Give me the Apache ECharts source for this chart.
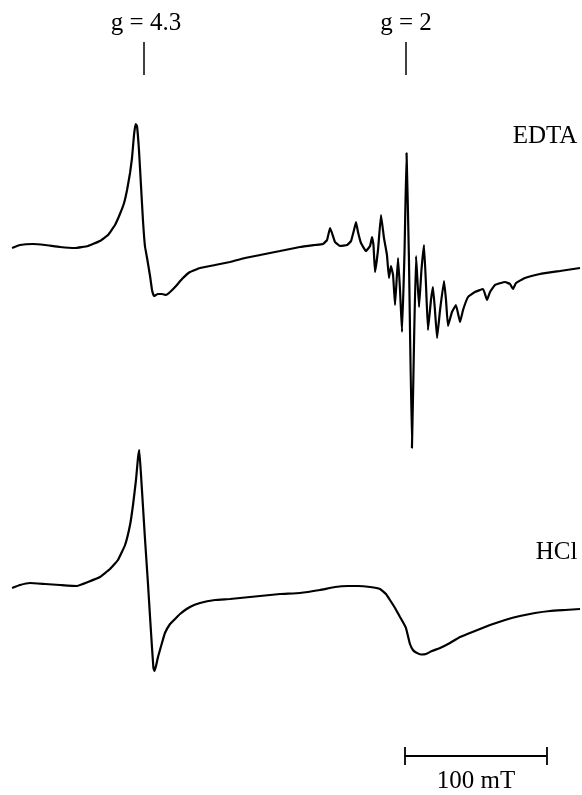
<!DOCTYPE html>
<html><head><meta charset="utf-8">
<script src="https://cdn.jsdelivr.net/npm/echarts@6/dist/echarts.min.js"></script>
<style>html,body{margin:0;padding:0;background:#fff}#c{width:582px;height:795px}</style>
</head><body><div id="c"></div>
<script>
// Magnetic field (mT) and derivative EPR signal (arbitrary units, baseline = 0)
const edtaField = [63.5,69.1,78.2,86.7,97.3,107.8,117.0,125.4,131.1,136.0,139.5,142.4,144.5,146.6,148.0,149.4,150.5,151.5,152.9,154.3,155.7,157.1,158.6,160.7,162.1,163.5,166.3,169.1,171.9,174.8,179.0,183.2,188.8,195.9,206.5,217.0,227.6,238.2,252.3,266.3,276.9,282.5,285.4,287.5,288.9,291.0,294.5,299.5,302.3,304.4,305.8,307.2,309.3,312.8,315.7,317.1,318.1,319.2,321.3,323.4,325.5,327.6,329.0,330.4,331.9,333.3,335.4,336.8,338.2,340.0,341.4,343.1,345.2,346.7,348.1,350.2,351.9,353.7,355.1,356.5,358.6,360.0,361.4,362.9,365.0,367.8,369.2,370.6,373.4,376.2,379.1,381.2,384.7,389.6,395.3,398.1,400.2,403.7,410.8,414.3,416.4,418.5,424.8,435.4,449.5,463.6];
const edtaSignal = [-2,1,2,1,-1,-2,0,5,11,21,32,43,56,73,88,111,122,120,96,61,26,0,-12,-30,-44,-50,-48,-48,-49,-46,-40,-33,-26,-22,-19,-16,-12,-9,-5,-1,1,2,6,18,13,4,0,1,5,16,24,14,3,-5,0,9,1,-26,-4,31,8,-9,-32,-20,-29,-59,-12,-44,-86,-4,93,-14,-202,-94,-10,-61,-24,1,-39,-84,-54,-41,-64,-92,-64,-35,-54,-80,-66,-59,-76,-64,-51,-46,-43,-54,-46,-39,-36,-38,-43,-37,-32,-28,-25,-22];
const hclField = [63.5,69.1,76.1,86.7,97.3,109.2,117.0,125.4,132.5,138.1,143.1,146.6,148.7,150.8,152.2,153.1,154.3,155.7,157.1,159.3,160.7,162.1,163.1,163.8,164.9,166.3,169.1,171.2,174.8,178.3,181.8,188.8,195.9,206.5,217.0,238.2,252.3,266.3,280.4,291.0,300.2,307.2,315.7,322.7,326.9,329.7,333.3,336.8,339.6,341.0,342.4,343.8,345.9,348.1,351.6,355.1,359.3,365.0,372.0,379.1,389.6,400.2,410.8,421.3,431.9,442.5,453.0,463.6];
const hclSignal = [2,5,7,6,5,4,8,13,21,30,45,65,85,110,132,140,116,84,52,5,-27,-58,-78,-81,-76,-67,-53,-43,-34,-29,-24,-17,-13,-10,-9,-6,-4,-3,0,3,4,4,3,1,-4,-10,-18,-27,-34,-38,-46,-54,-60,-62.5,-64.5,-64,-61,-58,-53,-47,-41,-35,-30,-26,-23,-21,-20,-19];
const traceLabels = ['EDTA', 'HCl'];
const gLabels = ['g = 4.3', 'g = 2'];
const gFields = [156, 341];
const scaleBarFields = [340, 440];
const scaleBarLabel = '100 mT';

const EDTA_OFFSET = 549, HCL_OFFSET = 205;
const FONT = '"Liberation Serif", "Times New Roman", serif';
const chart = echarts.init(document.getElementById('c'), null, {renderer: 'canvas'});
const toPairs = (f, s, off) => f.map((b, i) => [b, s[i] + off]);
const black = '#000';

const gLines = gFields.map(b => [{coord: [b, 753]}, {coord: [b, 720]}]);
const barLines = [
  [{coord: [scaleBarFields[0], 39]}, {coord: [scaleBarFields[1], 39]}],
  [{coord: [scaleBarFields[0], 48]}, {coord: [scaleBarFields[0], 30]}],
  [{coord: [scaleBarFields[1], 48]}, {coord: [scaleBarFields[1], 30]}]
];

chart.setOption({
  animation: false,
  backgroundColor: '#fff',
  grid: {left: 0, right: 0, top: 0, bottom: 0},
  xAxis: {type: 'value', min: 55, max: 465, show: false},
  yAxis: {type: 'value', min: 0, max: 795, show: false},
  series: [
    {
      name: traceLabels[0], type: 'line', data: toPairs(edtaField, edtaSignal, EDTA_OFFSET),
      showSymbol: false, smooth: 0.1, lineStyle: {color: black, width: 2.2},
      markLine: {silent: true, symbol: 'none', label: {show: false},
        lineStyle: {color: black, width: 1.5, type: 'solid'}, data: gLines}
    },
    {
      name: traceLabels[1], type: 'line', data: toPairs(hclField, hclSignal, HCL_OFFSET),
      showSymbol: false, smooth: 0.1, lineStyle: {color: black, width: 2.2},
      markLine: {silent: true, symbol: 'none', label: {show: false},
        lineStyle: {color: black, width: 1.8, type: 'solid'}, data: barLines}
    }
  ],
  graphic: [
    {type: 'text', x: 146, y: 23, style: {text: gLabels[0], font: '25px ' + FONT, fill: black, align: 'center', verticalAlign: 'middle'}},
    {type: 'text', x: 406, y: 23, style: {text: gLabels[1], font: '25px ' + FONT, fill: black, align: 'center', verticalAlign: 'middle'}},
    {type: 'text', x: 545, y: 136.5, style: {text: traceLabels[0], font: '25px ' + FONT, fill: black, align: 'center', verticalAlign: 'middle'}},
    {type: 'text', x: 556.5, y: 552.5, style: {text: traceLabels[1], font: '25px ' + FONT, fill: black, align: 'center', verticalAlign: 'middle'}},
    {type: 'text', x: 476, y: 781, style: {text: scaleBarLabel, font: '25px ' + FONT, fill: black, align: 'center', verticalAlign: 'middle'}}
  ]
});
</script></body></html>
